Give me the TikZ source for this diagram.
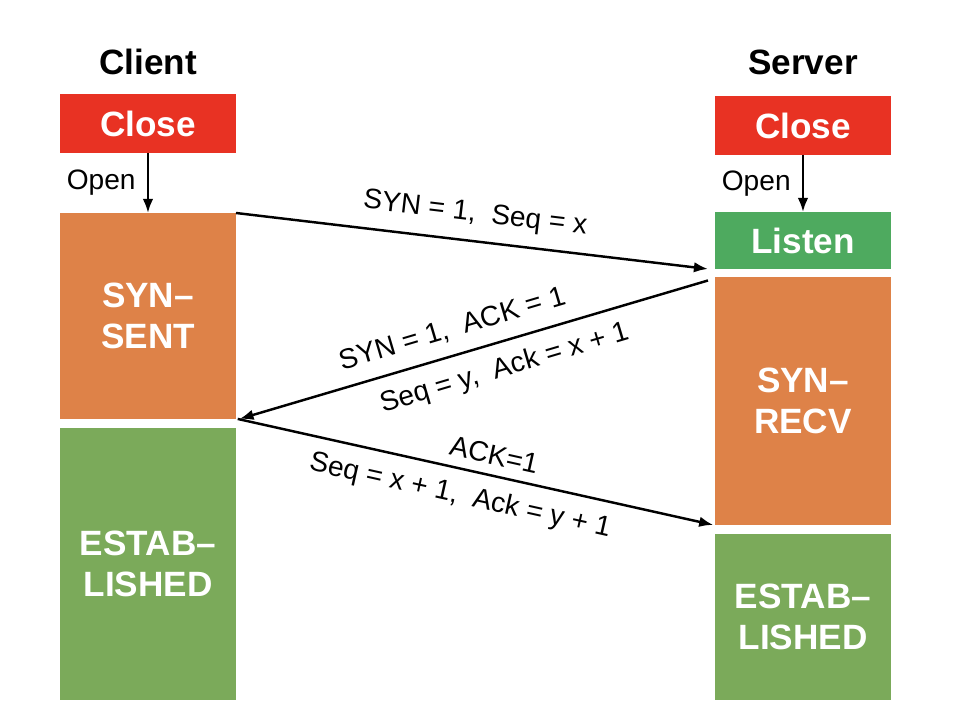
\documentclass[tikz,border=0pt]{standalone}
\usepackage{fontspec}
\setmainfont{Liberation Sans}
\usetikzlibrary{arrows.meta, positioning}
\definecolor{closered}{RGB}{232,50,35}
\definecolor{synorange}{RGB}{222,130,72}
\definecolor{listengreen}{RGB}{78,170,95}
\definecolor{estgreen}{RGB}{123,170,90}
\begin{document}
\begin{tikzpicture}[x=0.02cm, y=-0.02cm,
	state/.style={rectangle, fill=#1, text=white, align=center, inner sep=0pt, outer sep=0pt,
		minimum width=3.52cm, font=\bfseries\fontsize{20}{23}\selectfont},
	title/.style={font=\bfseries\fontsize{20}{24}\selectfont},
	msg/.style={font=\fontsize{16}{19}\selectfont},
	every path/.style={line width=1.4pt},
	>={Latex[length=8pt,width=6pt]}]
	\useasboundingbox (0,0) rectangle (956,718);
	% Nodes
	\node (cclose) [state=closered, minimum height=1.18cm, anchor=north west] at (60,94) {Close};
	\node (csent) [state=synorange, minimum height=4.12cm, below=1.2cm of cclose] {SYN--\\SENT};
	\node (cest) [state=estgreen, minimum height=5.44cm, below=0.18cm of csent] {ESTAB--\\LISHED};
	\node (client) [title] at (148,62) {Client};
	
	\node (sclose) [state=closered, minimum height=1.18cm, anchor=north west] at (715,96) {Close};
	\node (slisten) [state=listengreen, minimum height=1.14cm, below=1.14cm of sclose] {Listen};
	\node (srecv) [state=synorange, minimum height=4.96cm, below=0.16cm of slisten] {SYN--\\RECV};
	\node (sest) [state=estgreen, minimum height=3.32cm, below=0.18cm of srecv] {ESTAB--\\LISHED};
	\node (server) [title] at (803,62) {Server};
	
	% Arrows
	\draw[->] (cclose) -- node[msg, left=3pt] {Open} (csent);
	\draw[->] (sclose) -- node[msg, left=3pt] {Open} (slisten);
	\draw[->] (csent.north east) -- node[msg, sloped, above=4pt] {SYN = 1,\ \ Seq = x} ([xshift=-4pt]slisten.south west);
	\draw[<-] ([xshift=2pt]csent.south east) --
		node[msg, sloped, above=4pt, pos=0.47] {SYN = 1,\ \ ACK = 1}
		node[msg, sloped, below=4pt, pos=0.55] {Seq = y,\ \ Ack = x + 1}
		([xshift=-4pt, yshift=-2pt]srecv.north west);
	\draw[->] ([xshift=1pt]csent.south east) --
		node[msg, sloped, above=2pt, pos=0.53] {ACK=1}
		node[msg, sloped, below=4pt, pos=0.48] {Seq = x + 1,\ \ Ack = y + 1}
		([xshift=-1pt]srecv.south west);
\end{tikzpicture}
\end{document}
